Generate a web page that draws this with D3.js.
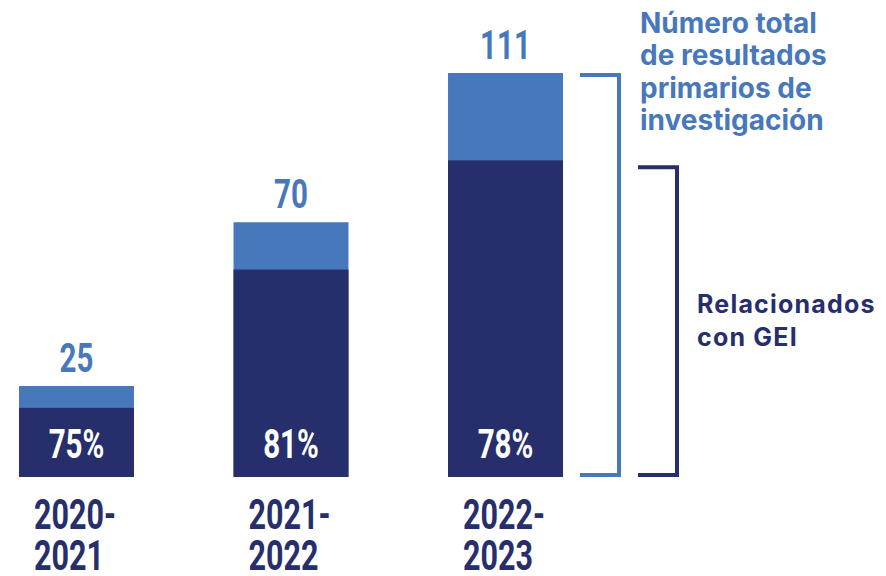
<!DOCTYPE html>
<html>
<head>
<meta charset="utf-8">
<script src="https://cdn.jsdelivr.net/npm/d3@7"></script>
<style>
  html, body { margin: 0; padding: 0; background: #fff; }
  svg { display: block; }
</style>
</head>
<body>
<svg id="chart" width="886" height="576"></svg>
<script>
const periods = [["2020-", "2021"], ["2021-", "2022"], ["2022-", "2023"]];
const periodKeys = ["2020-2021", "2021-2022", "2022-2023"];
const totals = [25, 70, 111];
const related = [19, 57, 87];
const percentLabels = ["75%", "81%", "78%"];
const totalLegend = ["Número total", "de resultados", "primarios de", "investigación"];
const relatedLegend = ["Relacionados", "con GEI"];

const LIGHT = "#4878bc";
const NAVY = "#262e6b";

const svg = d3.select("#chart");

const x = d3.scaleBand().domain(periodKeys).range([19, 563]).paddingInner(0.464).paddingOuter(0);
const y = d3.scaleLinear().domain([0, d3.max(totals)]).range([477, 73]);

const data = periodKeys.map((k, i) => ({ key: k, total: totals[i], rel: related[i], pct: percentLabels[i], lab: periods[i] }));

const g = svg.append("g");

g.selectAll("rect.total").data(data).join("rect")
  .attr("class", "total")
  .attr("x", d => x(d.key))
  .attr("width", x.bandwidth())
  .attr("y", d => y(d.total))
  .attr("height", d => y(0) - y(d.total))
  .attr("fill", LIGHT);

g.selectAll("rect.rel").data(data).join("rect")
  .attr("class", "rel")
  .attr("x", d => x(d.key))
  .attr("width", x.bandwidth())
  .attr("y", d => y(d.rel))
  .attr("height", d => y(0) - y(d.rel))
  .attr("fill", NAVY);

const numFont = "Roboto, 'Liberation Sans', sans-serif";
const SX = 0.72;

// total value labels
g.selectAll("text.total").data(data).join("text")
  .attr("class", "total")
  .attr("transform", d => `translate(${x(d.key) + x.bandwidth() / 2},${y(d.total) - 14}) scale(${SX},1)`)
  .attr("text-anchor", "middle")
  .attr("font-family", numFont)
  .attr("font-weight", 700)
  .attr("font-size", 41)
  .attr("fill", LIGHT)
  .text(d => d.total);

// percent labels
g.selectAll("text.pct").data(data).join("text")
  .attr("class", "pct")
  .attr("transform", d => `translate(${x(d.key) + x.bandwidth() / 2},${y(0) - 19}) scale(${SX},1)`)
  .attr("text-anchor", "middle")
  .attr("font-family", numFont)
  .attr("font-weight", 700)
  .attr("font-size", 41)
  .attr("fill", "#ffffff")
  .text(d => d.pct);

// period labels
const pl = g.selectAll("text.period").data(data).join("text")
  .attr("class", "period")
  .attr("transform", d => `translate(${x(d.key) + 15},0) scale(0.71,1)`)
  .attr("font-family", numFont)
  .attr("font-weight", 700)
  .attr("font-size", 43)
  .attr("fill", NAVY);
pl.selectAll("tspan").data(d => d.lab).join("tspan")
  .attr("x", 0)
  .attr("y", (d, i) => 529 + i * 41)
  .text(d => d);

// brackets
const maxT = d3.max(totals);
const maxR = d3.max(related);
function bracket(x0, x1, yTop, yBot) {
  const p = d3.path();
  p.moveTo(x0, yTop);
  p.lineTo(x1, yTop);
  p.lineTo(x1, yBot);
  p.lineTo(x0, yBot);
  return p.toString();
}
svg.append("path")
  .attr("d", bracket(580, 619, y(maxT) + 2, y(0) - 2))
  .attr("fill", "none").attr("stroke", LIGHT).attr("stroke-width", 4);
svg.append("path")
  .attr("d", bracket(638, 677, y(maxR) + 7, y(0) - 2))
  .attr("fill", "none").attr("stroke", NAVY).attr("stroke-width", 4);

const legFont = "Inter, 'Noto Sans', sans-serif";
svg.append("text")
  .attr("font-family", legFont).attr("font-weight", 700).attr("font-size", 28)
  .attr("fill", LIGHT)
  .selectAll("tspan").data(totalLegend).join("tspan")
  .attr("x", 640).attr("y", (d, i) => 33 + i * 32.3).text(d => d);

svg.append("text")
  .attr("font-family", legFont).attr("font-weight", 700).attr("font-size", 25)
  .attr("letter-spacing", 1.2)
  .attr("fill", NAVY)
  .selectAll("tspan").data(relatedLegend).join("tspan")
  .attr("x", 697).attr("y", (d, i) => 313 + i * 33).text(d => d);
</script>
</body>
</html>
